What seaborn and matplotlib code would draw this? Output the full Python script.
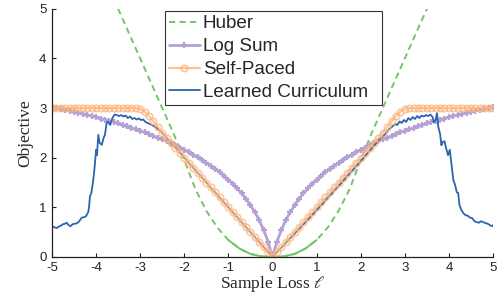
import numpy as np
import matplotlib
matplotlib.use("Agg")
import matplotlib.pyplot as plt
import seaborn as sns

# x grid for the smooth curves (right half, mirrored for the left half)
half_x = [round(0.1 * i, 1) for i in range(51)]

log_sum_half = [0.00, 0.31, 0.54, 0.74, 0.90, 1.04, 1.17, 1.28, 1.38, 1.47,
                1.56, 1.64, 1.71, 1.78, 1.84, 1.90, 1.96, 2.01, 2.06, 2.11,
                2.16, 2.20, 2.25, 2.29, 2.33, 2.37, 2.40, 2.44, 2.47, 2.51,
                2.54, 2.57, 2.60, 2.63, 2.66, 2.69, 2.72, 2.74, 2.77, 2.79,
                2.82, 2.84, 2.86, 2.88, 2.91, 2.93, 2.95, 2.97, 2.99, 3.01, 3.03]

self_paced_half = [0.0, 0.1, 0.2, 0.3, 0.4, 0.5, 0.6, 0.7, 0.8, 0.9,
                   1.0, 1.1, 1.2, 1.3, 1.4, 1.5, 1.6, 1.7, 1.8, 1.9,
                   2.0, 2.1, 2.2, 2.3, 2.4, 2.5, 2.62, 2.73, 2.84, 2.93,
                   2.99, 3.0, 3.0, 3.0, 3.0, 3.0, 3.0, 3.0, 3.0, 3.0,
                   3.0, 3.0, 3.0, 3.0, 3.0, 3.0, 3.0, 3.0, 3.0, 3.0, 3.0]

huber_half_x = [0, 0.25, 0.5, 0.75, 1.0, 1.25, 1.5, 1.75, 2.0, 2.25,
                2.5, 2.75, 3.0, 3.25, 3.5, 3.75, 4.0]
huber_half = [0.0, 0.01, 0.06, 0.17, 0.34, 0.59, 0.93, 1.37, 1.95, 2.5,
              3.0, 3.5, 4.0, 4.5, 5.0, 5.5, 6.0]

learned_x = [-5.0, -4.95, -4.9, -4.85, -4.8, -4.75, -4.7, -4.67, -4.62, -4.58,
             -4.53, -4.48, -4.43, -4.38, -4.33, -4.28, -4.23, -4.18, -4.16, -4.14,
             -4.11, -4.08, -4.05, -4.03, -4.0, -3.98, -3.95, -3.92, -3.87, -3.83,
             -3.8, -3.76, -3.73, -3.68, -3.63, -3.58, -3.53, -3.48, -3.43, -3.38,
             -3.33, -3.28, -3.23, -3.18, -3.13, -3.08, -3.03, -2.98, -2.93, -2.88,
             -2.83, -2.73, -2.63, -2.53, -2.43, -2.33, -2.2, -2.0, -1.5, -1.0,
             -0.5, 0.0, 0.5, 1.0, 1.5, 2.0, 2.3, 2.45, 2.55, 2.65,
             2.72, 2.78, 2.83, 2.88, 2.93, 2.98, 3.03, 3.08, 3.13, 3.18,
             3.23, 3.28, 3.33, 3.38, 3.43, 3.48, 3.53, 3.58, 3.63, 3.66,
             3.7, 3.73, 3.76, 3.8, 3.83, 3.86, 3.9, 3.94, 3.98, 4.02,
             4.06, 4.1, 4.14, 4.18, 4.21, 4.24, 4.28, 4.33, 4.38, 4.43,
             4.48, 4.53, 4.58, 4.63, 4.68, 4.73, 4.78, 4.83, 4.88, 4.93,
             4.98, 5.0]
learned_y = [0.62, 0.60, 0.58, 0.61, 0.63, 0.66, 0.67, 0.69, 0.64, 0.62,
             0.66, 0.67, 0.68, 0.72, 0.79, 0.80, 0.82, 0.90, 1.00, 1.22,
             1.28, 1.45, 1.66, 1.85, 2.16, 2.05, 2.46, 2.30, 2.26, 2.40,
             2.46, 2.70, 2.73, 2.66, 2.80, 2.87, 2.86, 2.84, 2.86, 2.83,
             2.85, 2.80, 2.83, 2.78, 2.80, 2.77, 2.79, 2.76, 2.77, 2.72,
             2.70, 2.66, 2.60, 2.53, 2.43, 2.33, 2.20, 2.00, 1.50, 1.00,
             0.50, 0.00, 0.47, 0.94, 1.43, 1.93, 2.24, 2.38, 2.47, 2.58,
             2.63, 2.68, 2.66, 2.73, 2.70, 2.76, 2.72, 2.80, 2.76, 2.82,
             2.78, 2.84, 2.80, 2.85, 2.83, 2.86, 2.84, 2.87, 2.82, 2.71,
             2.77, 2.90, 2.62, 2.48, 2.25, 2.32, 2.33, 2.18, 2.05, 2.16,
             1.86, 1.55, 1.45, 1.30, 1.29, 1.05, 0.95, 0.88, 0.84, 0.83,
             0.79, 0.78, 0.72, 0.70, 0.69, 0.72, 0.70, 0.68, 0.67, 0.64,
             0.62, 0.64]

x_ticks = [-5, -4, -3, -2, -1, 0, 1, 2, 3, 4, 5]
x_tick_labels = ["-5", "-4", "-3", "-2", "-1", "0", "1", "2", "3", "4", "5"]
y_ticks = [0, 1, 2, 3, 4, 5]

# mirror the symmetric curves
curve_x = np.array([-v for v in half_x[:0:-1]] + half_x)
log_sum = np.array(log_sum_half[:0:-1] + log_sum_half)
self_paced = np.array(self_paced_half[:0:-1] + self_paced_half)
huber_x = np.array([-v for v in huber_half_x[:0:-1]] + huber_half_x)
huber = np.array(huber_half[:0:-1] + huber_half)

sns.set_theme(style="ticks")
plt.rcParams["font.family"] = ["Liberation Sans", "DejaVu Sans"]
plt.rcParams["mathtext.fontset"] = "stix"
plt.rcParams["axes.unicode_minus"] = False

c_huber = "#72C66A"
c_log = "#B4A2D6"
c_self = "#FDB47A"
c_learn = "#2C64AE"

fig = plt.figure(figsize=(5, 2.96), dpi=100)
ax = fig.add_axes([0.104, 0.132, 0.882, 0.838])

sns.lineplot(x=huber_x, y=huber, ax=ax, color=c_huber, linewidth=1.4,
             linestyle=(0, (3.2, 2.2)), estimator=None, sort=False)
inner = np.abs(huber_x) <= 1.15
sns.lineplot(x=huber_x[inner], y=huber[inner], ax=ax, color=c_huber,
             linewidth=1.4, estimator=None, sort=False)
sns.lineplot(x=curve_x, y=log_sum, ax=ax, color=c_log, linewidth=2.0,
             marker="+", markersize=4.5, markeredgewidth=1.6,
             markeredgecolor=c_log, estimator=None, sort=False)
sns.lineplot(x=learned_x, y=learned_y, ax=ax, color=c_learn, linewidth=1.3,
             estimator=None, sort=False)
sns.lineplot(x=curve_x, y=self_paced, ax=ax, color=c_self, linewidth=1.6, alpha=0.75,
             marker="o", markersize=4.6, markerfacecolor="none",
             markeredgecolor=c_self, markeredgewidth=1.2, estimator=None, sort=False)

ax.set_xlim(-5, 5)
ax.set_ylim(0, 5)
ax.set_xticks(x_ticks)
ax.set_xticklabels(x_tick_labels)
ax.set_yticks(y_ticks)
ax.tick_params(direction="in", length=3, width=0.8, labelsize=9.5, colors="#222222",
               pad=4)
for s in ["left", "bottom"]:
    ax.spines[s].set_color("#222222")
    ax.spines[s].set_linewidth(0.9)
sns.despine(ax=ax)

ax.set_xlabel(r"Sample Loss $\ell$", family=["Liberation Serif", "DejaVu Serif"],
              fontsize=12.5, labelpad=0)
ax.set_ylabel("Objective", family=["Liberation Serif", "DejaVu Serif"],
              fontsize=12.5, labelpad=4)

handles = [
    plt.Line2D([], [], color=c_huber, linewidth=1.4, linestyle=(0, (3.2, 2.2))),
    plt.Line2D([], [], color=c_log, linewidth=2.0, marker="+", markersize=4.5,
               markeredgewidth=1.6),
    plt.Line2D([], [], color=c_self, linewidth=1.6, alpha=0.8, marker="o",
               markersize=4.6, markerfacecolor="none", markeredgewidth=1.2),
    plt.Line2D([], [], color=c_learn, linewidth=1.3),
]
labels = ["Huber", "Log Sum", "Self-Paced", "Learned Curriculum  "]
leg = ax.legend(handles, labels, loc="upper left", bbox_to_anchor=(0.256, 0.99),
                fontsize=13.6, frameon=True, fancybox=False, handlelength=1.65,
                handletextpad=0.15, borderpad=0.2, labelspacing=0.3,
                borderaxespad=0)
leg.get_frame().set_edgecolor("black")
leg.get_frame().set_linewidth(0.8)

plt.savefig("out.png", dpi=100)
